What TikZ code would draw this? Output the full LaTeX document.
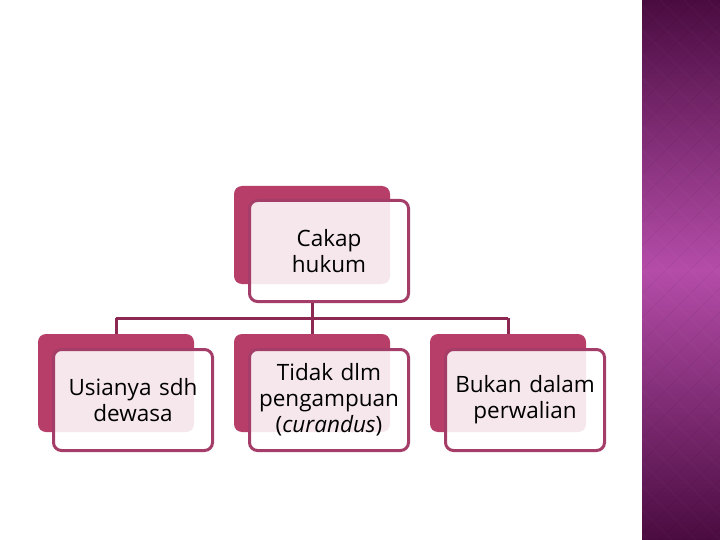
\documentclass[tikz,border=0pt]{standalone}
\usepackage{fontspec}
\setmainfont{Open Sans}
\definecolor{rasp}{RGB}{183,62,104}
\definecolor{raspline}{RGB}{164,62,104}
\definecolor{conn}{RGB}{140,40,82}
\definecolor{plumdark}{RGB}{74,12,64}
\definecolor{plummid}{RGB}{180,76,168}
\tikzset{
  backbox/.style={rectangle, rounded corners=8pt, fill=rasp, minimum width=156pt, minimum height=98pt, inner sep=0pt},
  frontbox/.style={rectangle, rounded corners=8pt, draw=raspline, line width=3pt, fill=white, fill opacity=0.88, text opacity=1,
    minimum width=159pt, minimum height=101pt, align=center, text width=156pt, inner sep=0pt,
    font=\fontsize{22.5}{26}\selectfont},
  conline/.style={draw=conn, line width=3pt}
}
\begin{document}
\begin{tikzpicture}[x=1pt,y=-1pt]

    \useasboundingbox (0,0) rectangle (720,540);
    \fill[white] (0,0) rectangle (720,540);

    % side strip
    \shade[top color=plumdark, bottom color=plumdark, middle color=plummid] (642,0) rectangle (720,540);
    \begin{scope}
      \clip (642,0) rectangle (720,540);
      \foreach \k in {-540,-516,...,780}
      {
        \draw[white, opacity=0.03, line width=0.8pt] (\k,0) -- (\k+540,540);
        \draw[black, opacity=0.03, line width=0.8pt] (\k,540) -- (\k+540,0);
      }
    \end{scope}

    % top
    \node (topB) [backbox] at (312,235) {};
    \node (top) [frontbox] at (329,251) {Cakap\\hukum};

    % children
    \node (leftB) [backbox] at (116,383) {};
    \node (left) [frontbox] at (133,400) {Usianya sdh\\dewasa};

    \node (midB) [backbox] at (312,383) {};
    \node (mid) [frontbox] at (329,400) {Tidak dlm\\pengampuan\\(\textit{curandus})};

    \node (rightB) [backbox] at (508,383) {};
    \node (right) [frontbox] at (525,400) {Bukan dalam\\perwalian};

    \coordinate (bar) at (312,318);
    \draw[conline] (top.south -| topB.south) -- (bar);
    \draw[conline] (bar -| leftB.north) -- (bar -| rightB.north);
    \draw[conline] (bar -| leftB.north) -- (leftB.north);
    \draw[conline] (bar) -- (midB.north);
    \draw[conline] (bar -| rightB.north) -- (rightB.north);

\end{tikzpicture}
\end{document}
